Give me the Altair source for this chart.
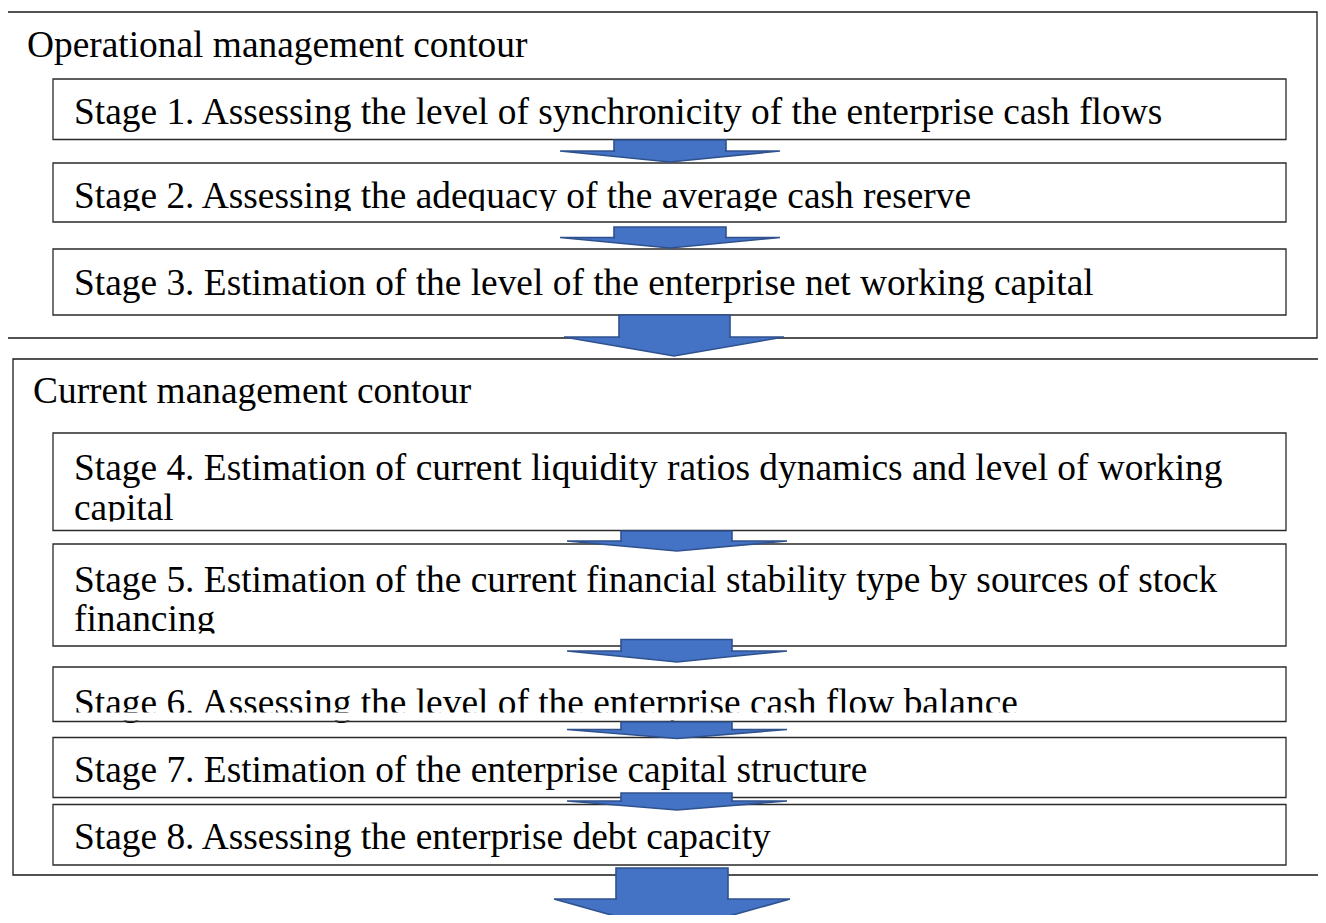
import altair as alt
import pandas as pd

# ---------------- content ----------------
titles = ["Operational management contour", "Current management contour"]
stage_lines = [
    ["Stage 1. Assessing the level of synchronicity of the enterprise cash flows"],
    ["Stage 2. Assessing the adequacy of the average cash reserve"],
    ["Stage 3. Estimation of the level of the enterprise net working capital"],
    ["Stage 4. Estimation of current liquidity ratios dynamics and level of working", "capital"],
    ["Stage 5. Estimation of the current financial stability type by sources of stock", "financing"],
    ["Stage 6. Assessing the level of the enterprise cash flow balance"],
    ["Stage 7. Estimation of the enterprise capital structure"],
    ["Stage 8. Assessing the enterprise debt capacity"],
]

# ---------------- layout (page pixel coordinates) ----------------
outer_left = [6, 13]
outer_right = [1317, 1345]
outer_top = [12, 359]
outer_bottom = [338, 875]
title_x = [27, 33]
title_base = [56.5, 402.5]

box_left, box_right = 53, 1286
text_x = 74
stage_top = [79, 163, 249, 433, 544, 667, 737.5, 804.5]
stage_bottom = [139.5, 222, 315, 530.5, 646, 721.5, 797.5, 865]
stage_base = [124, 208, 295, 480, 591.5, 714.5, 781.5, 849]
line_gap = 39.5
clip_y = [None, 211, None, 521.5, 633.5, 712.5, None, None]

# arrows: shaft left, shaft right, shaft top, wing y, wing left, wing right, tip y
arrows = [
    (614, 726, 140, 151, 560, 780, 162),
    (614, 726, 227, 237.5, 560, 780, 248),
    (619, 730, 315, 337, 564, 784, 356),
    (621, 732, 531, 541, 567, 787, 551),
    (621, 732, 639.5, 651, 567, 787, 662),
    (621, 732, 722, 729.5, 567, 787, 738.5),
    (621, 732, 793, 801, 567, 787, 810),
    (616, 728, 868, 899, 554, 790, 932),
]

FONT = "Liberation Serif"
FS = 37.4
FILL = "#4472C4"
EDGE = "#2F528F"

# ---------------- tables ----------------
text_rows = []
for i, t in enumerate(titles):
    text_rows.append({"x": title_x[i], "y": title_base[i], "text": t})
for i, lines in enumerate(stage_lines):
    for j, ln in enumerate(lines):
        text_rows.append({"x": text_x, "y": stage_base[i] + j * line_gap, "text": ln})
text_df = pd.DataFrame(text_rows)

clip_rows = []
for i, c in enumerate(clip_y):
    if c is not None:
        clip_rows.append({"x": box_left + 1, "x2": box_right - 1, "y": c, "y2": stage_bottom[i] - 1})
clip_df = pd.DataFrame(clip_rows)

outer_df = pd.DataFrame({"x": outer_left, "x2": outer_right, "y": outer_top, "y2": outer_bottom})
stage_df = pd.DataFrame({"x": [box_left] * len(stage_top), "x2": [box_right] * len(stage_top),
                         "y": stage_top, "y2": stage_bottom})

shaft_rows, head_rows, joint_rows = [], [], []
for k, (sl, sr, st, wy, wl, wr, ty) in enumerate(arrows):
    shaft_rows.append({"x": sl, "x2": sr, "y": st, "y2": wy})
    tx = (wl + wr) / 2
    head_rows += [
        {"id": k, "x": wl, "y": wy, "y2": wy},
        {"id": k, "x": tx, "y": wy, "y2": ty},
        {"id": k, "x": wr, "y": wy, "y2": wy},
    ]
    joint_rows.append({"x": sl + 1, "x2": sr - 1, "y": wy - 1.6, "y2": wy + 1.6})
shaft_df = pd.DataFrame(shaft_rows)
head_df = pd.DataFrame(head_rows)
joint_df = pd.DataFrame(joint_rows)

W, H = 1310, 907
xs = alt.Scale(domain=[8, 8 + W], nice=False, zero=False)
ys = alt.Scale(domain=[8, 8 + H], nice=False, zero=False, reverse=True)


def X(f="x"):
    return alt.X(f + ":Q", scale=xs, axis=None)


def Y(f="y"):
    return alt.Y(f + ":Q", scale=ys, axis=None)


texts = alt.Chart(text_df).mark_text(
    font=FONT, fontSize=FS, align="left", baseline="alphabetic", color="#000000"
).encode(x=X(), y=Y(), text="text:N")

clips = alt.Chart(clip_df).mark_rect(color="#ffffff").encode(
    x=X(), x2="x2:Q", y=Y(), y2="y2:Q")

outer = alt.Chart(outer_df).mark_rect(filled=False, stroke="#1a1a1a", strokeWidth=1.3).encode(
    x=X(), x2="x2:Q", y=Y(), y2="y2:Q")

stages = alt.Chart(stage_df).mark_rect(filled=False, stroke="#2a2a2a", strokeWidth=1.3).encode(
    x=X(), x2="x2:Q", y=Y(), y2="y2:Q")

heads = alt.Chart(head_df).mark_area(
    color=FILL, stroke=EDGE, strokeWidth=1.6, opacity=1, interpolate="linear"
).encode(x=X(), y=alt.Y("y:Q", scale=ys, axis=None, stack=None), y2="y2:Q", detail="id:N")

shafts = alt.Chart(shaft_df).mark_rect(color=FILL, stroke=EDGE, strokeWidth=1.6).encode(
    x=X(), x2="x2:Q", y=Y(), y2="y2:Q")

joints = alt.Chart(joint_df).mark_rect(color=FILL).encode(
    x=X(), x2="x2:Q", y=Y(), y2="y2:Q")

chart = alt.layer(texts, clips, outer, stages, heads, shafts, joints).properties(
    width=W, height=H, padding=0, autosize=alt.AutoSizeParams(type="none"),
    background="#ffffff"
).configure_view(stroke=None)

chart.save("out.html", embed_options={"renderer": "svg", "actions": False})
